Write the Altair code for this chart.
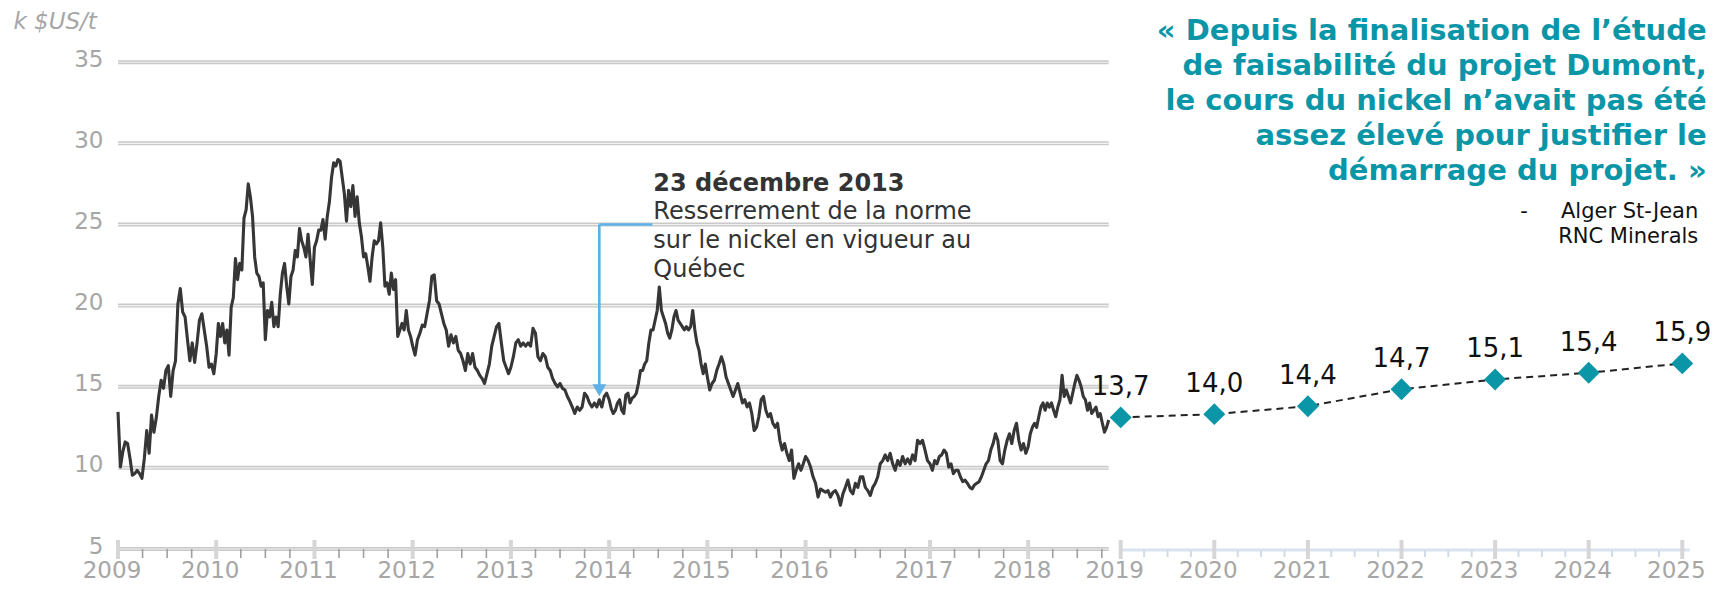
import altair as alt
import pandas as pd

# ---------------- historical nickel price, k $US/t ----
p2009 = [13.45, 10.06, 10.99, 11.6, 11.5, 10.6, 9.55, 9.65, 9.85, 9.65, 9.35, 10.6, 12.3, 10.9,
         13.25, 12.2, 13.1, 14.4, 15.4, 14.9, 16.0, 16.3, 14.4, 16.0, 16.6, 20.1, 21.05, 19.6,
         19.3, 17.9, 16.6, 17.7, 16.5, 17.7, 19.1, 19.5, 18.5, 17.5, 16.2, 16.4, 15.8]
p2010 = [17.05, 18.9, 18.1, 18.9, 17.7, 18.5, 16.95, 19.9, 20.5, 22.9, 21.6, 22.6, 22.2, 25.4,
         25.9, 27.5, 26.7, 25.5, 23.0, 22.0, 21.8, 21.2, 21.4, 17.9, 19.7, 19.3, 20.2, 18.7,
         19.3, 18.7, 20.7, 22.0, 22.6, 21.2, 20.1, 21.8, 22.2, 23.4, 23.0, 24.75, 24.0, 23.6,
         23.0, 24.4, 22.8, 21.3]
p2011 = [23.6, 24.0, 24.65, 24.65, 25.3, 24.1, 25.5, 26.4, 27.9, 28.8, 28.6, 29.0, 28.9, 27.9,
         26.9, 25.2, 27.1, 26.1, 27.4, 25.5, 26.7, 25.1, 24.25, 23.0, 23.2, 22.4, 21.5, 23.0,
         24.0, 23.8, 24.0, 25.1, 23.6, 21.2, 21.4, 20.7, 22.0, 21.0, 21.6, 18.1, 18.5, 18.9,
         18.5, 19.7, 18.5, 18.1]
p2012 = [17.5, 16.95, 17.9, 18.3, 18.8, 18.7, 19.5, 20.3, 21.8, 21.9, 20.3, 20.1, 19.5, 18.9,
         18.5, 17.5, 18.2, 17.7, 18.1, 17.25, 17.05, 16.6, 16.0, 17.05, 16.4, 17.05, 16.2, 16.0,
         15.7, 15.5, 15.2, 15.8, 16.4, 17.5, 18.1, 18.7, 18.9, 17.7, 16.6, 16.2, 15.8]
p2013 = [16.2, 16.85, 17.7, 17.9, 17.5, 17.7, 17.5, 17.7, 17.5, 18.6, 18.3, 16.85, 16.6, 17.05,
         16.85, 16.2, 16.0, 15.5, 15.2, 15.0, 15.2, 14.9, 14.8, 14.4, 14.1, 13.75, 13.35, 13.75,
         13.55, 13.75, 14.6, 14.4, 14.0, 13.75, 14.0, 13.75, 14.2, 13.75, 14.4, 14.6]
p2014 = [14.2, 13.65, 13.35, 13.55, 14.0, 14.2, 13.55, 13.35, 14.5, 14.6, 14.0, 14.3, 14.4, 14.6,
         15.2, 16.0, 16.0, 16.4, 16.6, 17.7, 18.5, 18.5, 19.1, 19.7, 21.15, 19.7, 19.3, 18.9,
         18.3, 18.0, 18.5, 19.3, 19.7, 19.1, 18.9, 18.7, 18.5, 18.7, 18.5, 18.7, 19.7, 18.5,
         17.7, 17.25, 16.4, 15.8, 16.4]
p2015 = [15.6, 14.8, 15.2, 15.4, 16.0, 16.4, 16.85, 16.4, 15.6, 15.2, 14.8, 14.4, 14.8, 15.2,
         14.6, 14.0, 14.2, 13.75, 14.0, 13.35, 12.3, 12.5, 13.15, 14.2, 14.4, 13.55, 13.15, 13.35,
         12.75, 12.5, 12.75, 11.7, 11.1, 11.5, 10.9, 10.45, 11.1, 9.35, 9.85, 10.25, 9.85, 10.25]
p2016 = [10.7, 10.45, 10.05, 9.45, 9.05, 8.2, 8.7, 8.6, 8.5, 8.6, 8.2, 8.5, 8.6, 8.3, 7.7, 8.4,
         8.8, 9.25, 8.6, 8.4, 9.05, 8.8, 9.45, 9.45, 8.8, 8.6, 8.3, 8.8, 9.05, 9.45, 10.25, 10.45,
         10.8, 10.45, 10.9, 10.25, 9.85, 10.45, 10.15, 10.7, 10.25, 10.55, 10.25, 10.8, 10.45,
         11.7, 11.5, 11.7, 11.1, 10.45]
p2017 = [10.25, 9.85, 10.45, 10.25, 10.7, 10.8, 11.1, 10.9, 10.05, 10.25, 9.65, 9.85, 9.85, 9.45,
         9.15, 9.25, 9.05, 8.8, 8.7, 8.95, 9.05, 9.15, 9.45, 9.85, 10.25, 10.45, 11.1, 11.5, 12.1,
         11.7, 10.45, 10.25, 11.1, 11.7, 12.1, 11.5, 12.3, 12.75, 11.7, 11.1, 11.5, 10.9]
p2018 = [11.3, 12.1, 12.5, 12.75, 12.5, 13.15, 13.75, 14.0, 13.55, 14.0, 13.75, 14.0, 13.55, 13.15,
         13.75, 14.2, 15.7, 14.4, 14.8, 14.4, 14.0, 14.6, 15.2, 15.7, 15.4, 15.0, 14.4, 14.2,
         13.55, 14.0, 13.35, 13.55, 13.75, 13.15, 13.35, 12.75, 12.2, 12.5, 12.95]
hist_by_year = {2009: p2009, 2010: p2010, 2011: p2011, 2012: p2012, 2013: p2013,
                2014: p2014, 2015: p2015, 2016: p2016, 2017: p2017, 2018: p2018}
HIST_END = 2018.82

# ---------------- forecast -----------------------------------------------------
fc_years = [2019, 2020, 2021, 2022, 2023, 2024, 2025]
fc_pos = [13.11, 13.31, 13.80, 14.85, 15.45, 15.86, 16.44]
fc_labels = ["13,7", "14,0", "14,4", "14,7", "15,1", "15,4", "15,9"]

# ---------------- axes / texts -------------------------------------------------
y_ticks = [5, 10, 15, 20, 25, 30, 35]
year_labels = list(range(2009, 2026))
hist_years = list(range(2009, 2019))
fc_tick_years = list(range(2019, 2026))

ann_date = 2013.9
ann_title = "23 décembre 2013"
ann_lines = ["Resserrement de la norme", "sur le nickel en vigueur au", "Québec"]
quote_lines = ["« Depuis la finalisation de l’étude",
               "de faisabilité du projet Dumont,",
               "le cours du nickel n’avait pas été",
               "assez élevé pour justifier le",
               "démarrage du projet. »"]
author = ["Alger St-Jean", "RNC Minerals"]
unit_label = "k $US/t"

FONT = "DejaVu Sans"
GREY = "#a6a6a6"
TEAL = "#0a96a7"
BLUE = "#5db1e6"

# ---------------- build tables -------------------------------------------------
rows = []
for yr, vals in hist_by_year.items():
    n = len(vals)
    for i, v in enumerate(vals):
        if yr == 2018:
            t = yr + (HIST_END - yr) * i / (n - 1)
        else:
            t = yr + i / n
        rows.append({"t": t, "price": v})
hist_df = pd.DataFrame(rows)

fc_df = pd.DataFrame({"year": fc_years, "pos": fc_pos, "label": fc_labels})
grid_df = pd.DataFrame({"v": y_ticks, "x0": 2009, "x1": HIST_END})
big_df = pd.DataFrame({"year": hist_years + fc_tick_years})
small_hist = []
for yr in hist_years:
    k = 5 if yr == 2016 else 4
    small_hist += [yr + j / k for j in range(1, k) if yr + j / k < HIST_END]
small_hist_df = pd.DataFrame({"x": small_hist})
small_fc_df = pd.DataFrame({"x": [yr + j / 4 for yr in fc_tick_years[:-1] for j in (1, 2, 3)]})
lab_df = pd.DataFrame({"year": year_labels, "txt": [str(y) for y in year_labels]})

x_scale = alt.Scale(domain=[2009, 2016, 2017, HIST_END, 2019, 2025],
                    range=[0, 687.6, 812, 990.7, 1002.7, 1564.3], nice=False, zero=False)
y_scale = alt.Scale(domain=[5, 38.342], nice=False, zero=False)
y_axis = alt.Axis(values=y_ticks, labelFontSize=23, labelColor=GREY, labelFont=FONT,
                  labelPadding=15, ticks=False, domain=False, grid=False, title=None,
                  labelOffset=-3)


def X(f):
    return alt.X(f, scale=x_scale, axis=None)


def Y(f):
    return alt.Y(f, scale=y_scale, axis=y_axis)


grid_outer = alt.Chart(grid_df).mark_rule(color="#c9c9c9", strokeWidth=4).encode(
    x=X("x0:Q"), x2="x1:Q", y=Y("v:Q"))
grid_inner = alt.Chart(grid_df).mark_rule(color="#f1f1f1", strokeWidth=1.2).encode(
    x=X("x0:Q"), x2="x1:Q", y=Y("v:Q"))

fc_axis = alt.Chart(pd.DataFrame({"a": [2019], "b": [2025.08]})).mark_rule(
    color="#d9e3ef", strokeWidth=3).encode(x=X("a:Q"), x2="b:Q", y=alt.value(542))
small_h = alt.Chart(small_hist_df).mark_rule(color="#9f9f9f", strokeWidth=1.6).encode(
    x=X("x:Q"), y=alt.value(541), y2=alt.value(550))
small_f = alt.Chart(small_fc_df).mark_rule(color="#d0dbe9", strokeWidth=2).encode(
    x=X("x:Q"), y=alt.value(542), y2=alt.value(549))
big_t = alt.Chart(big_df).mark_rule(color="#d6d6d6", strokeWidth=4).encode(
    x=X("year:Q"), y=alt.value(532), y2=alt.value(551))
x_labels = alt.Chart(lab_df).mark_text(fontSize=23, font=FONT, color=GREY, dx=-6,
                                        baseline="middle").encode(
    x=X("year:Q"), y=alt.value(562.5), text="txt:N")

hist_line = alt.Chart(hist_df).mark_line(color="#363636", strokeWidth=3.1,
                                         strokeJoin="round").encode(
    x=X("t:Q"), y=Y("price:Q"))

fc_line = alt.Chart(fc_df).mark_line(color="#222222", strokeWidth=2,
                                     strokeDash=[7, 5]).encode(x=X("year:Q"), y=Y("pos:Q"))
fc_pts = alt.Chart(fc_df).mark_point(shape="diamond", filled=True, size=480, opacity=1,
                                     color=TEAL).encode(x=X("year:Q"), y=Y("pos:Q"))
fc_txt = alt.Chart(fc_df).mark_text(fontSize=26, font=FONT, color="#111111", dy=-30,
                                    baseline="middle").encode(
    x=X("year:Q"), y=Y("pos:Q"), text="label:N")

ann_df = pd.DataFrame({"x": [ann_date], "xe": [2014.44], "top": [25.0], "tip": [14.7],
                       "head": [14.78], "tx": [2014.45], "ty1": [27.08], "ty2": [25.32],
                       "t1": [ann_title], "t2": ["\n".join(ann_lines)]})
ann_v = alt.Chart(ann_df).mark_rule(color=BLUE, strokeWidth=2.6).encode(
    x=X("x:Q"), y=Y("top:Q"), y2="tip:Q")
ann_h = alt.Chart(ann_df).mark_rule(color=BLUE, strokeWidth=2.6).encode(
    x=X("x:Q"), x2="xe:Q", y=Y("top:Q"))
ann_head = alt.Chart(ann_df).mark_point(shape="triangle-down", filled=True, size=190,
                                        opacity=1, color=BLUE).encode(
    x=X("x:Q"), y=Y("head:Q"))
ann_t1 = alt.Chart(ann_df).mark_text(fontSize=24, font=FONT, fontWeight="bold",
                                     color="#333333", align="left",
                                     baseline="alphabetic").encode(
    x=X("tx:Q"), y=Y("ty1:Q"), text="t1:N")
ann_t2 = alt.Chart(ann_df).mark_text(fontSize=24, font=FONT, color="#333333",
                                     align="left", baseline="alphabetic",
                                     lineBreak="\n", lineHeight=28.7).encode(
    x=X("tx:Q"), y=Y("ty2:Q"), text="t2:N")

txt_df = pd.DataFrame({"quote": ["\n".join(quote_lines)], "a1": [author[0]],
                       "a2": [author[1]], "dash": ["-"], "unit": [unit_label]})
quote = alt.Chart(txt_df).mark_text(fontSize=29, font=FONT, fontWeight="bold", color=TEAL,
                                    align="right", baseline="alphabetic", lineBreak="\n",
                                    lineHeight=34.9).encode(
    x=alt.value(1588.7), y=alt.value(32), text="quote:N")
auth1 = alt.Chart(txt_df).mark_text(fontSize=21, font=FONT, color="#111111", align="right",
                                    baseline="alphabetic").encode(
    x=alt.value(1580.3), y=alt.value(210.3), text="a1:N")
auth2 = alt.Chart(txt_df).mark_text(fontSize=21, font=FONT, color="#111111", align="right",
                                    baseline="alphabetic").encode(
    x=alt.value(1580.3), y=alt.value(234.7), text="a2:N")
dash = alt.Chart(txt_df).mark_text(fontSize=21, font=FONT, color="#111111", align="center",
                                   baseline="alphabetic").encode(
    x=alt.value(1406), y=alt.value(210.3), text="dash:N")
unit = alt.Chart(txt_df).mark_text(fontSize=23, font=FONT, fontStyle="italic", color=GREY,
                                   align="left", baseline="middle").encode(
    x=alt.value(-104.6), y=alt.value(14), text="unit:N")

chart = alt.layer(
    grid_outer, grid_inner, fc_axis, small_h, small_f, big_t, x_labels,
    hist_line, ann_v, ann_h, ann_head, ann_t1, ann_t2,
    fc_line, fc_pts, fc_txt, quote, auth1, auth2, dash, unit,
).properties(
    width=1605, height=541,
    padding={"left": 110, "top": 0, "right": 0, "bottom": 33},
    autosize=alt.AutoSizeParams(type="none"),
).configure_view(stroke=None)

chart.save("out.html", embed_options={"renderer": "svg", "actions": False})
